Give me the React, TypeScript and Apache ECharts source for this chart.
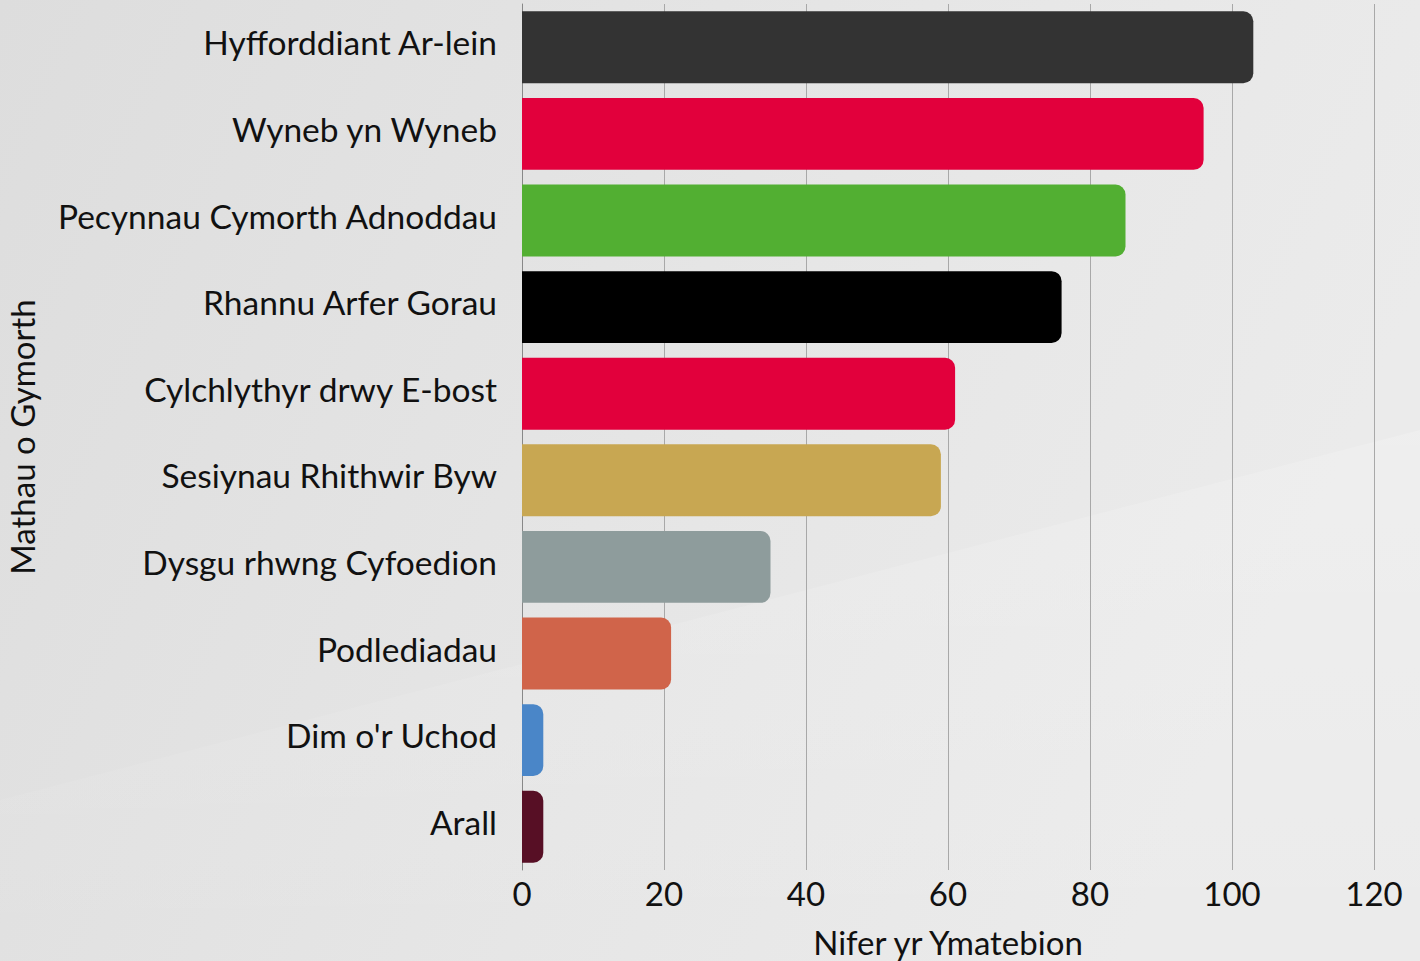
import React, { useEffect, useRef } from "react";
import * as echarts from "echarts";

const categories = [
  "Hyfforddiant Ar-lein",
  "Wyneb yn Wyneb",
  "Pecynnau Cymorth Adnoddau",
  "Rhannu Arfer Gorau",
  "Cylchlythyr drwy E-bost",
  "Sesiynau Rhithwir Byw",
  "Dysgu rhwng Cyfoedion",
  "Podlediadau",
  "Dim o'r Uchod",
  "Arall",
];
const values = [103, 96, 85, 76, 61, 59, 35, 21, 3, 3];
const barColors = [
  "#333333",
  "#e2003c",
  "#52af32",
  "#000000",
  "#e2003c",
  "#c8a752",
  "#8e9c9c",
  "#d0644a",
  "#4a86c8",
  "#570f25",
];
const xAxisTitle = "Nifer yr Ymatebion";
const yAxisTitle = "Mathau o Gymorth";

export default function App() {
  const ref = useRef<HTMLDivElement>(null);
  useEffect(() => {
    if (!ref.current) return;
    const chart = echarts.init(ref.current, null, { renderer: "svg" });
    const font = "Lato";
    chart.setOption({
      animation: false,
      backgroundColor: {
        type: "linear",
        x: 0,
        y: 0,
        x2: 1,
        y2: 0.3,
        colorStops: [
          { offset: 0, color: "#dddddd" },
          { offset: 0.6, color: "#e6e6e6" },
          { offset: 1, color: "#ebebeb" },
        ],
      },
      graphic: [
        {
          type: "polygon",
          silent: true,
          z: -10,
          shape: {
            points: [
              [0, 800],
              [1420, 430],
              [1420, 961],
              [0, 961],
            ],
          },
          style: {
            fill: {
              type: "linear",
              x: 0,
              y: 0,
              x2: 0,
              y2: 1,
              colorStops: [
                { offset: 0, color: "rgba(255,255,255,0.18)" },
                { offset: 1, color: "rgba(255,255,255,0.0)" },
              ],
            },
          },
        },
      ],
      grid: {
        left: 522,
        right: 46,
        top: 4,
        bottom: 91,
        containLabel: false,
        outerBoundsMode: "none",
      },
      xAxis: {
        type: "value",
        min: 0,
        max: 120,
        interval: 20,
        name: xAxisTitle,
        nameLocation: "middle",
        nameGap: 55,
        nameTextStyle: { fontFamily: font, fontSize: 33, color: "#111" },
        axisLine: { show: false },
        axisTick: { show: false },
        axisLabel: { fontFamily: font, fontSize: 33, color: "#111", margin: 6 },
        splitLine: { show: true, lineStyle: { color: "#a8a8a8", width: 1 } },
      },
      yAxis: {
        type: "category",
        data: categories,
        inverse: true,
        name: yAxisTitle,
        nameLocation: "middle",
        nameRotate: 90,
        nameGap: 484,
        nameTextStyle: { fontFamily: font, fontSize: 33, color: "#111" },
        axisLine: { show: true, lineStyle: { color: "#888", width: 1 } },
        axisTick: { show: false },
        axisLabel: {
          fontFamily: font,
          fontSize: 33.5,
          color: "#111",
          margin: 25,
          formatter: (v: string) => `{a|${v}}`,
          rich: {
            a: {
              fontFamily: font,
              fontSize: 33.5,
              color: "#111",
              padding: [0, 0, 10, 0],
            },
          },
        },
        splitLine: { show: false },
      },
      series: [
        {
          type: "bar",
          barCategoryGap: "17%",
          data: values.map((v, i) => ({
            value: v,
            itemStyle: { color: barColors[i], borderRadius: [0, 10, 10, 0] },
          })),
        },
      ],
    });
    return () => chart.dispose();
  }, []);
  return (
    <div
      ref={ref}
      style={{ position: "fixed", left: 0, top: 0, width: 1420, height: 961 }}
    />
  );
}
